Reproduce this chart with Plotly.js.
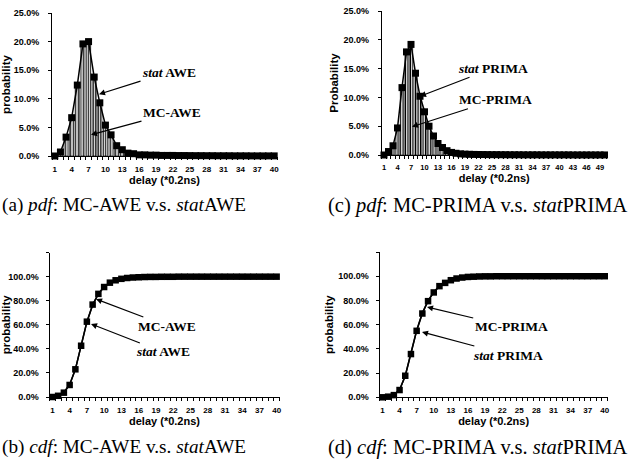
<!DOCTYPE html>
<html>
<head>
<meta charset="utf-8">
<script src="https://cdn.plot.ly/plotly-3.0.1.min.js"></script>
<style>html,body{margin:0;padding:0;background:#fff;}#chart{width:632px;height:466px;}</style>
</head>
<body>
<div id="chart"></div>
<script>
// ---- data ----
var delayAWE = [1,2,3,4,5,6,7,8,9,10,11,12,13,14,15,16,17,18,19,20,21,22,23,24,25,26,27,28,29,30,31,32,33,34,35,36,37,38,39,40];
var delayPRIMA = [1,2,3,4,5,6,7,8,9,10,11,12,13,14,15,16,17,18,19,20,21,22,23,24,25,26,27,28,29,30,31,32,33,34,35,36,37,38,39,40,41,42,43,44,45,46,47,48,49,50];

var pdfStatAWE = [0.000,0.007,0.033,0.067,0.124,0.196,0.200,0.138,0.093,0.054,0.037,0.018,0.011,0.005,0.004,0.002,0.002,0.0015,0.0015,0.001,0.001,0.001,0.0008,0.0008,0.0007,0.0006,0.0006,0.0005,0.0005,0.0004,0.0004,0.0004,0.0003,0.0003,0.0003,0.0002,0.0002,0.0002,0.0002,0.0002];
var pdfMCAWE   = [0.001,0.009,0.032,0.066,0.122,0.194,0.198,0.140,0.094,0.056,0.038,0.019,0.012,0.006,0.004,0.003,0.002,0.0015,0.001,0.001,0.001,0.0008,0.0008,0.0007,0.0006,0.0006,0.0005,0.0005,0.0004,0.0004,0.0004,0.0003,0.0003,0.0003,0.0002,0.0002,0.0002,0.0002,0.0002,0.0001];

var pdfStatPRIMA = [0.000,0.006,0.016,0.047,0.117,0.179,0.192,0.142,0.102,0.075,0.050,0.033,0.020,0.013,0.0075,0.0045,0.003,0.002,0.0015,0.0012,0.001,0.0009,0.0008,0.0007,0.0006,0.0006,0.0005,0.0005,0.0004,0.0004,0.0004,0.0003,0.0003,0.0003,0.0003,0.0002,0.0002,0.0002,0.0002,0.0002,0.0002,0.0002,0.0001,0.0001,0.0001,0.0001,0.0001,0.0001,0.0001,0.0001];
var pdfMCPRIMA   = [0.001,0.007,0.017,0.046,0.115,0.177,0.190,0.144,0.103,0.076,0.051,0.034,0.021,0.013,0.008,0.005,0.003,0.002,0.0015,0.0012,0.001,0.0009,0.0008,0.0007,0.0006,0.0006,0.0005,0.0005,0.0004,0.0004,0.0004,0.0003,0.0003,0.0003,0.0003,0.0002,0.0002,0.0002,0.0002,0.0002,0.0002,0.0002,0.0001,0.0001,0.0001,0.0001,0.0001,0.0001,0.0001,0.0001];

var cdfStatAWE = [0.000,0.010,0.036,0.100,0.230,0.426,0.626,0.768,0.857,0.914,0.950,0.970,0.982,0.989,0.993,0.995,0.997,0.998,0.998,0.999,0.999,0.999,1.000,1.000,1.000,1.000,1.000,1.000,1.000,1.000,1.000,1.000,1.000,1.000,1.000,1.000,1.000,1.000,1.000,1.000];
var cdfMCAWE   = [0.001,0.010,0.040,0.104,0.230,0.422,0.622,0.762,0.858,0.916,0.952,0.971,0.983,0.989,0.993,0.995,0.997,0.998,0.998,0.999,0.999,0.999,1.000,1.000,1.000,1.000,1.000,1.000,1.000,1.000,1.000,1.000,1.000,1.000,1.000,1.000,1.000,1.000,1.000,1.000];

var cdfStatPRIMA = [0.000,0.005,0.018,0.060,0.178,0.357,0.549,0.692,0.794,0.866,0.918,0.945,0.967,0.981,0.989,0.994,0.996,0.998,0.999,0.999,1.000,1.000,1.000,1.000,1.000,1.000,1.000,1.000,1.000,1.000,1.000,1.000,1.000,1.000,1.000,1.000,1.000,1.000,1.000,1.000];
var cdfMCPRIMA   = [0.001,0.006,0.020,0.062,0.176,0.355,0.553,0.697,0.798,0.870,0.920,0.950,0.970,0.983,0.990,0.994,0.996,0.998,0.999,0.999,1.000,1.000,1.000,1.000,1.000,1.000,1.000,1.000,1.000,1.000,1.000,1.000,1.000,1.000,1.000,1.000,1.000,1.000,1.000,1.000];

var pdfTicks = [0,0.05,0.10,0.15,0.20,0.25];
var cdfTicks = [0,0.2,0.4,0.6,0.8,1.0,1.2];
var cdfTickText = ['0.0%','20.0%','40.0%','60.0%','80.0%','100.0%',''];

// ---- helpers ----
var W = 632, H = 466;
function fx(px){ return px / W; }
function fy(py){ return 1 - py / H; }
function every3(cats){ return cats.filter(function(c, i){ return i % 3 === 0; }); }
function bounds(cats){ var b = [cats[0] - 0.5]; cats.forEach(function(c){ b.push(c + 0.5); }); return b; }

var tickFont = {family: 'Liberation Sans, Arial, sans-serif', size: 8, color: '#000', weight: 'bold'};
var yTickFont = {family: 'Liberation Sans, Arial, sans-serif', size: 9, color: '#000', weight: 'bold'};
var titleFont = {family: 'Liberation Sans, Arial, sans-serif', size: 11, color: '#000', weight: 'bold'};
var yTitleFont = {family: 'Liberation Sans, Arial, sans-serif', size: 11.5, color: '#000', weight: 'bold'};

function xAxis(cats, d0, d1, anchor, fs){
  var f = Object.assign({}, tickFont, {size: fs});
  return {
    domain: [fx(d0), fx(d1)], anchor: anchor,
    range: [cats[0] - 0.5, cats[cats.length - 1] + 0.5],
    tickmode: 'array', tickvals: every3(cats), ticktext: every3(cats).map(String),
    ticks: '', tickfont: f, ticklabelstandoff: 5,
    minor: {tickmode: 'array', tickvals: bounds(cats), ticks: 'outside', ticklen: 3, tickcolor: '#000', tickwidth: 1},
    showline: true, linecolor: '#000', linewidth: 1, showgrid: false, zeroline: false,
    title: {text: 'delay (*0.2ns)', font: titleFont, standoff: 3}
  };
}
function yAxisPdf(top, bot, anchor, label){
  return {
    domain: [fy(bot), fy(top)], anchor: anchor, range: [0, 0.25],
    tickmode: 'array', tickvals: pdfTicks, tickformat: '.1%',
    ticks: 'outside', ticklen: 3, tickcolor: '#000', tickfont: yTickFont, ticklabelstandoff: 7,
    showline: true, linecolor: '#000', linewidth: 1, showgrid: false, zeroline: false,
    title: {text: label, font: yTitleFont, standoff: 2}
  };
}
function yAxisCdf(top, bot, anchor){
  return {
    domain: [fy(bot), fy(top)], anchor: anchor, range: [0, 1.2],
    tickmode: 'array', tickvals: cdfTicks, ticktext: cdfTickText,
    ticks: 'outside', ticklen: 3, tickcolor: '#000', tickfont: yTickFont, ticklabelstandoff: 5,
    showline: true, linecolor: '#000', linewidth: 1, showgrid: false, zeroline: false,
    title: {text: 'probability', font: yTitleFont, standoff: 2}
  };
}

var barStyle = {
  color: '#777',
  pattern: {shape: '|', fgcolor: '#000', bgcolor: '#fff', size: 2.5, solidity: 0.45},
  line: {color: '#000', width: 0.6}
};
var lineMk = function(sz){ return {symbol: 'square', size: sz, color: '#000'}; };

var traces = [
  // (a) pdf AWE
  {type: 'bar', x: delayAWE, y: pdfMCAWE, xaxis: 'x', yaxis: 'y', marker: barStyle, width: 0.75, name: 'MC-AWE'},
  {type: 'scatter', mode: 'lines+markers', x: delayAWE, y: pdfStatAWE, xaxis: 'x', yaxis: 'y',
   line: {color: '#000', width: 1.5}, marker: lineMk(7), name: 'stat AWE', cliponaxis: false},
  // (c) pdf PRIMA
  {type: 'bar', x: delayPRIMA, y: pdfMCPRIMA, xaxis: 'x2', yaxis: 'y2', marker: barStyle, width: 0.75, name: 'MC-PRIMA'},
  {type: 'scatter', mode: 'lines+markers', x: delayPRIMA, y: pdfStatPRIMA, xaxis: 'x2', yaxis: 'y2',
   line: {color: '#000', width: 1.5}, marker: lineMk(7), name: 'stat PRIMA', cliponaxis: false},
  // (b) cdf AWE
  {type: 'scatter', mode: 'lines', x: delayAWE, y: cdfMCAWE, xaxis: 'x3', yaxis: 'y3',
   line: {color: '#000', width: 1.5}, name: 'MC-AWE', cliponaxis: false},
  {type: 'scatter', mode: 'lines+markers', x: delayAWE, y: cdfStatAWE, xaxis: 'x3', yaxis: 'y3',
   line: {color: '#000', width: 1.5}, marker: lineMk(6.5), name: 'stat AWE', cliponaxis: false},
  // (d) cdf PRIMA
  {type: 'scatter', mode: 'lines', x: delayAWE, y: cdfMCPRIMA, xaxis: 'x4', yaxis: 'y4',
   line: {color: '#000', width: 1.5}, name: 'MC-PRIMA', cliponaxis: false},
  {type: 'scatter', mode: 'lines+markers', x: delayAWE, y: cdfStatPRIMA, xaxis: 'x4', yaxis: 'y4',
   line: {color: '#000', width: 1.5}, marker: lineMk(6.5), name: 'stat PRIMA', cliponaxis: false}
];

var annFont = {family: 'Liberation Serif, Times New Roman, serif', size: 13.5, color: '#000', weight: 'bold'};
function capFont(sz){ return {family: 'Liberation Serif, Times New Roman, serif', size: sz, color: '#000'}; }
function arrowAnn(xr, yr, x, y, ax, ay, text){
  return {xref: xr, yref: yr, x: x, y: y, axref: 'pixel', ayref: 'pixel', ax: ax, ay: ay,
    text: text, font: annFont, showarrow: true, arrowhead: 2, arrowsize: 1, arrowwidth: 1.2,
    arrowcolor: '#000', standoff: 0, startstandoff: 0, borderpad: 1};
}
function caption(cx, cy, text, sz){
  return {xref: 'paper', yref: 'paper', x: fx(cx), y: fy(cy), xanchor: 'center', yanchor: 'middle',
    text: text, font: capFont(sz), showarrow: false};
}

var layout = {
  width: W, height: H, margin: {l: 0, r: 0, t: 0, b: 0},
  paper_bgcolor: '#fff', plot_bgcolor: '#fff', showlegend: false,
  bargap: 0.25,
  xaxis:  xAxis(delayAWE, 52, 277, 'y', 8),
  yaxis:  yAxisPdf(13, 156, 'x', 'probability'),
  xaxis2: xAxis(delayPRIMA, 381.75, 606.75, 'y2', 7.5),
  yaxis2: yAxisPdf(11, 155, 'x2', 'Probability'),
  xaxis3: xAxis(delayAWE, 49.5, 279.5, 'y3', 8),
  yaxis3: yAxisCdf(252.6, 397, 'x3'),
  xaxis4: xAxis(delayAWE, 379.6, 607.6, 'y4', 8),
  yaxis4: yAxisCdf(252, 397.3, 'x4'),
  annotations: [
    arrowAnn('x', 'y', 8.86, 0.108, 70, -22, '<i>stat</i> AWE'),
    arrowAnn('x', 'y', 7.43, 0.037, 81, -22, 'MC-AWE'),
    arrowAnn('x2', 'y2', 9.0, 0.102, 73, -28, '<i>stat</i> PRIMA'),
    arrowAnn('x2', 'y2', 7.22, 0.049, 84, -27, 'MC-PRIMA'),
    arrowAnn('x3', 'y3', 8.59, 0.814, 71, 27, 'MC-AWE'),
    arrowAnn('x3', 'y3', 7.72, 0.607, 72, 28, '<i>stat</i> AWE'),
    arrowAnn('x4', 'y4', 8.82, 0.746, 84, 20, 'MC-PRIMA'),
    arrowAnn('x4', 'y4', 7.94, 0.539, 86, 23, '<i>stat</i> PRIMA'),
    caption(124, 205, '(a) <i>pdf</i>: MC-AWE v.s. <i>stat</i>AWE', 19.2),
    caption(478, 205, '(c) <i>pdf</i>: MC-PRIMA v.s. <i>stat</i>PRIMA', 20.5),
    caption(124, 447, '(b) <i>cdf</i>: MC-AWE v.s. <i>stat</i>AWE', 19.2),
    caption(478, 447, '(d) <i>cdf</i>: MC-PRIMA v.s. <i>stat</i>PRIMA', 20.5)
  ]
};

Plotly.newPlot('chart', traces, layout, {staticPlot: true, displayModeBar: false});
</script>
</body>
</html>
